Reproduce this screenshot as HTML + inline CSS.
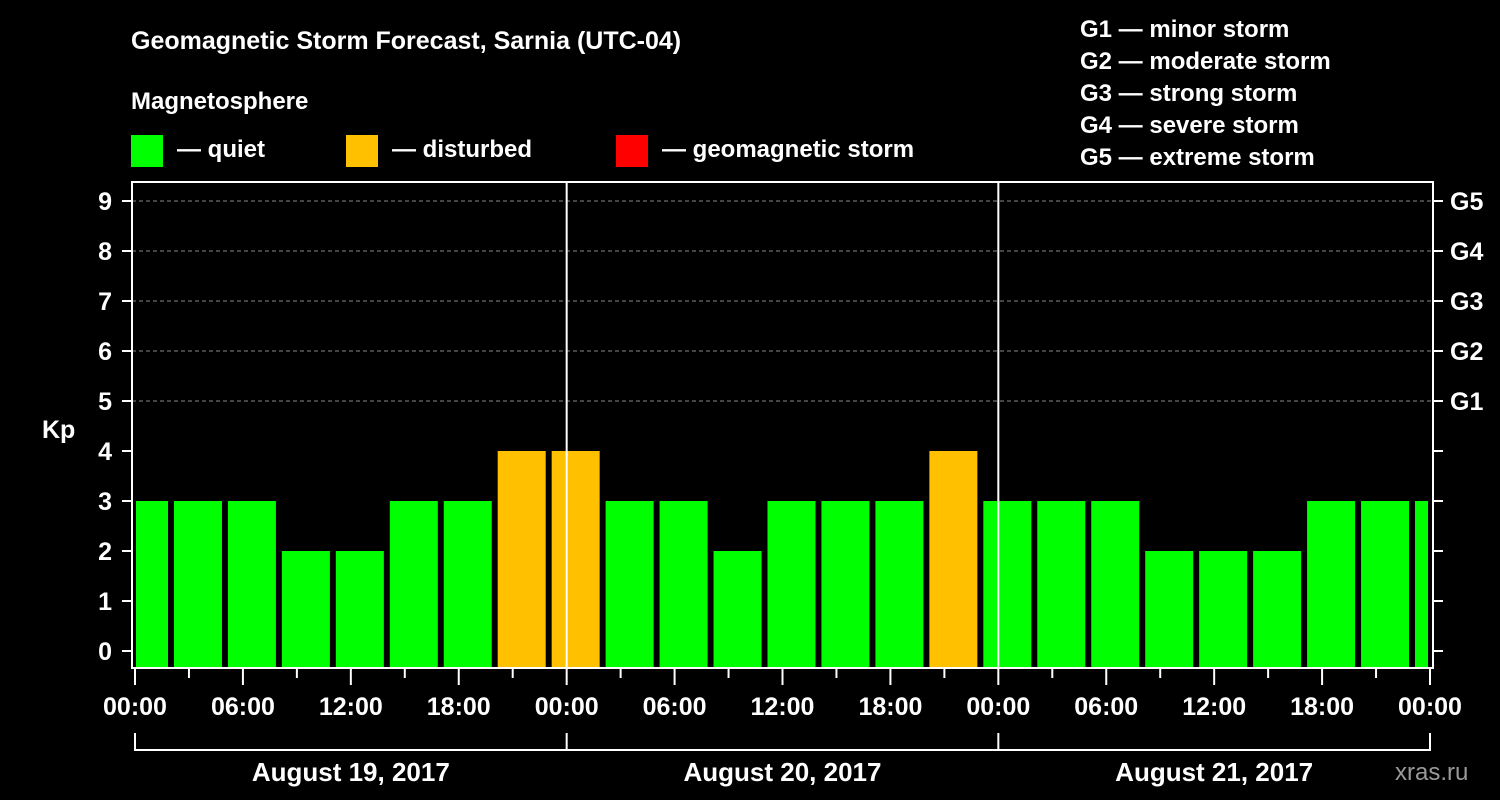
<!DOCTYPE html>
<html><head><meta charset="utf-8"><style>
html,body{margin:0;padding:0;background:#000;}
svg{display:block;font-family:"Liberation Sans",Arial,sans-serif;font-weight:bold;}
</style></head><body>
<svg id="chart" width="1500" height="800" viewBox="0 0 1500 800" xmlns="http://www.w3.org/2000/svg">
<rect x="0" y="0" width="1500" height="800" fill="#000"/>
<text x="131" y="49" fill="#fff" font-size="25">Geomagnetic Storm Forecast, Sarnia (UTC-04)</text>
<text x="131" y="109" fill="#fff" font-size="24">Magnetosphere</text>
<g><rect x="131" y="135" width="32" height="32" fill="#00ff00"/><text x="177" y="157" fill="#fff" font-size="24">— quiet</text></g>
<g><rect x="346" y="135" width="32" height="32" fill="#ffc000"/><text x="392" y="157" fill="#fff" font-size="24">— disturbed</text></g>
<g><rect x="616" y="135" width="32" height="32" fill="#ff0000"/><text x="662" y="157" fill="#fff" font-size="24">— geomagnetic storm</text></g>
<g fill="#fff" font-size="24">
<text x="1080" y="37">G1 — minor storm</text>
<text x="1080" y="69">G2 — moderate storm</text>
<text x="1080" y="101">G3 — strong storm</text>
<text x="1080" y="133">G4 — severe storm</text>
<text x="1080" y="165">G5 — extreme storm</text>
</g>
<text x="42" y="438" fill="#fff" font-size="25">Kp</text>
<text x="1395" y="780" fill="#999" font-size="24" font-weight="normal">xras.ru</text>
<g id="grid"></g><g id="bars"></g><g id="axes"></g>
</svg>
<script>
const kpValues=[3,3,3,2,2,3,3,4,4,3,3,2,3,3,3,4,3,3,3,2,2,2,3,3,3];
const yTicks=[0,1,2,3,4,5,6,7,8,9];
const gLabels=["G1","G2","G3","G4","G5"];
const hourLabels=["00:00","06:00","12:00","18:00","00:00","06:00","12:00","18:00","00:00","06:00","12:00","18:00","00:00"];
const dayLabels=["August 19, 2017","August 20, 2017","August 21, 2017"];
const NS="http://www.w3.org/2000/svg";
const L=132,R=1433,T=182,B=668,X0=135,X1=1430;
function xs(h){return X0+(X1-X0)*h/72;}
function ys(v){return 651-v*50;}
function mk(p,tag,at){const e=document.createElementNS(NS,tag);for(const k in at)e.setAttribute(k,at[k]);p.appendChild(e);return e;}
const grid=document.getElementById('grid'),bars=document.getElementById('bars'),axes=document.getElementById('axes');
for(let v=5;v<=9;v++){const l=mk(grid,'line',{x1:L,x2:R,y1:ys(v),y2:ys(v),stroke:'#888','stroke-dasharray':'4,3','stroke-width':1});

}
kpValues.forEach((v,i)=>{
 let x0=xs(i*3)-15,x1=x0+48;x0=Math.max(x0,136);x1=Math.min(x1,1428);
 const r=mk(bars,'rect',{x:x0,y:ys(v),width:x1-x0,height:B-ys(v),fill:v>=5?'#ff0000':(v>=4?'#ffc000':'#00ff00')});
 
 
});
const fr=mk(axes,'rect',{x:L,y:T,width:R-L,height:B-T,fill:'none',stroke:'#fff','stroke-width':2});


[1,2].forEach(d=>{const l=mk(axes,'line',{x1:xs(d*24),x2:xs(d*24),y1:T,y2:B,stroke:'#fff','stroke-width':2});

});
yTicks.forEach(v=>{
 mk(axes,'line',{x1:122,x2:L,y1:ys(v),y2:ys(v),stroke:'#fff','stroke-width':2});
 mk(axes,'line',{x1:R,x2:1443,y1:ys(v),y2:ys(v),stroke:'#fff','stroke-width':2});
 const t=mk(axes,'text',{x:112,y:ys(v)+9,fill:'#fff','font-size':25,'text-anchor':'end'});t.textContent=v;
 
 
});
gLabels.forEach((g,i)=>{const t=mk(axes,'text',{x:1450,y:ys(5+i)+9,fill:'#fff','font-size':25});t.textContent=g;
 
 });
for(let h=0;h<=72;h+=3){mk(axes,'line',{x1:xs(h),x2:xs(h),y1:B,y2:h%6?678:685,stroke:'#fff','stroke-width':2});}
hourLabels.forEach((s,i)=>{const t=mk(axes,'text',{x:xs(i*6),y:715,fill:'#fff','font-size':25,'text-anchor':'middle'});t.textContent=s;
 
 });
mk(axes,'line',{x1:xs(0),x2:xs(72),y1:750,y2:750,stroke:'#fff','stroke-width':2});
for(let d=0;d<=3;d++)mk(axes,'line',{x1:xs(d*24),x2:xs(d*24),y1:733,y2:751,stroke:'#fff','stroke-width':2});
dayLabels.forEach((s,i)=>{const t=mk(axes,'text',{x:xs(i*24+12),y:781,fill:'#fff','font-size':26,'text-anchor':'middle'});t.textContent=s;
 
 });
</script>
</body></html>
